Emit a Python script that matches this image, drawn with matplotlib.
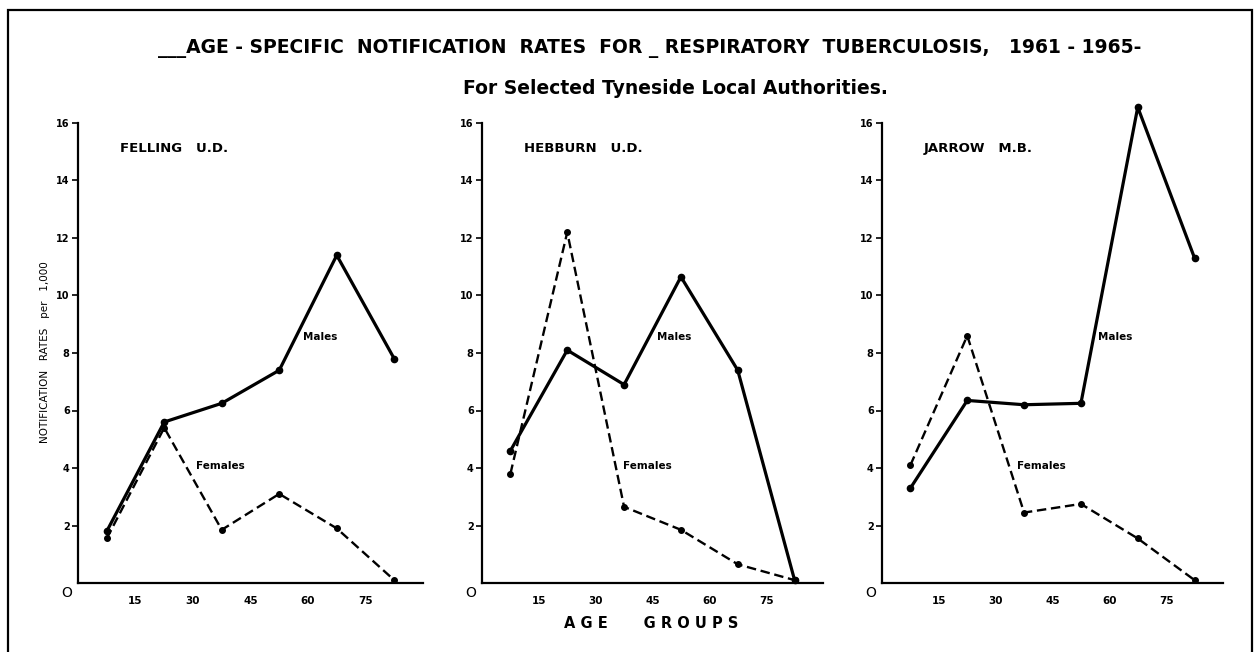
# import packages
import matplotlib
matplotlib.use('Agg')
from matplotlib import pyplot as plt

plt.rcParams['font.family'] = ['DejaVu Sans']

# age groups (mid points of the 15 year bands) and rates per 1,000
age_mid = [7.5, 22.5, 37.5, 52.5, 67.5, 82.5]
age_ticks = [15, 30, 45, 60, 75]
rate_ticks = [2, 4, 6, 8, 10, 12, 14, 16]

felling_males = [1.8, 5.6, 6.25, 7.4, 11.4, 7.8]
felling_females = [1.55, 5.4, 1.85, 3.1, 1.9, 0.1]
hebburn_males = [4.6, 8.1, 6.9, 10.65, 7.4, 0.1]
hebburn_females = [3.8, 12.2, 2.65, 1.85, 0.65, 0.1]
jarrow_males = [3.3, 6.35, 6.2, 6.25, 16.55, 11.3]
jarrow_females = [4.1, 8.6, 2.45, 2.75, 1.55, 0.1]

authorities = ['FELLING   U.D.', 'HEBBURN   U.D.', 'JARROW   M.B.']

W, H = 1258, 652


# draw one local authority panel
def draw_panel(left_px, right_px, name, males, females, males_xy, females_xy):
    ax = fig.add_axes([left_px / W, 1 - 583 / H, (right_px - left_px) / W, 460 / H])
    ax.plot(age_mid, males, color='k', lw=2.3, marker='o', ms=4.5, clip_on=False, zorder=3)
    ax.plot(age_mid, females, color='k', lw=1.7, ls=(0, (4, 2)), marker='o', ms=4,
            clip_on=False, zorder=3)
    ax.set_xlim(0, 90)
    ax.set_ylim(0, 16)
    for s in ['top', 'right']:
        ax.spines[s].set_visible(False)
    for s in ['left', 'bottom']:
        ax.spines[s].set_linewidth(1.6)
    ax.set_yticks(rate_ticks)
    ax.set_xticks(age_ticks)
    ax.tick_params(axis='y', direction='out', length=4, width=1.2, pad=2, labelsize=7)
    ax.tick_params(axis='x', length=0, pad=9, labelsize=7.5)
    for lab in ax.get_xticklabels() + ax.get_yticklabels():
        lab.set_fontweight('bold')
    ax.annotate('O', (0, 0), xytext=(-8, -7), textcoords='offset points',
                ha='center', va='center', fontsize=10, annotation_clip=False)
    ax.text(11, 15.1, name, fontsize=9.5, fontweight='bold', va='center')
    ax.text(males_xy[0], males_xy[1], 'Males', fontsize=7.5, fontweight='bold', va='center')
    ax.text(females_xy[0], females_xy[1], 'Females', fontsize=7.5, fontweight='bold', va='center')
    return ax


fig = plt.figure(figsize=(W / 100, H / 100), dpi=100)

draw_panel(78, 423, authorities[0], felling_males, felling_females, (58.7, 8.55), (30.8, 4.07))
draw_panel(482, 823, authorities[1], hebburn_males, hebburn_females, (46.3, 8.55), (37.1, 4.07))
draw_panel(882, 1223, authorities[2], jarrow_males, jarrow_females, (57.1, 8.55), (35.5, 4.07))

# titles and labels
fig.text(650 / W, 1 - 48 / H,
         '___AGE - SPECIFIC  NOTIFICATION  RATES  FOR _ RESPIRATORY  TUBERCULOSIS,   1961 - 1965-',
         ha='center', va='center', fontsize=13.5, fontweight='bold')
fig.text(675 / W, 1 - 89 / H, 'For Selected Tyneside Local Authorities.',
         ha='center', va='center', fontsize=13.5, fontweight='bold')
fig.text(45 / W, 1 - 352 / H, 'NOTIFICATION   RATES   per   1,000', rotation=90,
         ha='center', va='center', fontsize=7.5)
fig.text(651 / W, 1 - 623 / H, 'A G E       G R O U P S', ha='center', va='center',
         fontsize=10.5, fontweight='bold')

# frame round the page
fig.add_artist(plt.Rectangle((8 / W, -0.1), 1244 / W, 1.1 - 10 / H, transform=fig.transFigure,
                             fill=False, lw=1.6, color='k'))

fig.savefig('out.png', dpi=100)
